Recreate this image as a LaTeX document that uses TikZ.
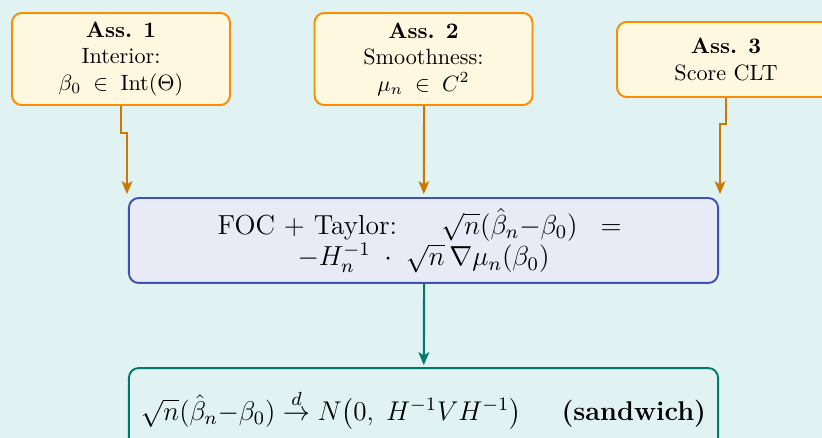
\RequirePackage{fix-cm}
\documentclass[tikz,border=0pt]{standalone}
\usepackage{amsmath}
\usetikzlibrary{arrows.meta,calc}
\definecolor{bgc}{HTML}{E0F2F1}
\definecolor{assfill}{HTML}{FFF8E1}
\definecolor{assdraw}{HTML}{FB8C00}
\definecolor{assarrow}{HTML}{CC7700}
\definecolor{midfill}{HTML}{E8EAF6}
\definecolor{middraw}{HTML}{3F51B5}
\definecolor{tealc}{HTML}{00796B}
\tikzset{
  assbox/.style={draw=assdraw, fill=assfill, line width=0.9pt, rounded corners=4.5pt,
    minimum width=101.4pt, minimum height=42.8pt, align=center, inner sep=2pt,
    font=\fontsize{10.3}{12.3}\selectfont},
  midbox/.style={draw=middraw, fill=midfill, line width=0.9pt, rounded corners=4.5pt,
    minimum width=274pt, minimum height=39.5pt, align=center, inner sep=2pt,
    font=\fontsize{12.8}{14.6}\selectfont},
  resbox/.style={draw=tealc, fill=bgc, line width=0.9pt, rounded corners=4.5pt,
    minimum width=274pt, minimum height=39pt, align=center, inner sep=2pt,
    font=\fontsize{12.6}{15}\selectfont},
  assarr/.style={draw=assarrow, line width=1pt, -{Stealth[length=6pt,width=5pt,inset=1.5pt]}},
  tealarr/.style={draw=tealc, line width=1pt, -{Stealth[length=6pt,width=5pt,inset=1.5pt]}}
}
\begin{document}
\begin{tikzpicture}[x=0.4651pt,y=-0.4651pt]
\useasboundingbox (0,0) rectangle (822,438);
\fill[bgc] (0,0) rectangle (822,438);
\clip (0,0) rectangle (822,438);
\node[assbox] (a1) at (121,59) {\textbf{Ass. 1}\\Interior:\\$\beta_0 \;\in\; \mathrm{Int}(\Theta)$};
\node[assbox] (a2) at (423.5,59) {\textbf{Ass. 2}\\Smoothness:\\$\mu_n \;\in\; C^2$};
\node[assbox, minimum height=34.9pt] (a3) at (726,59.5) {\textbf{Ass. 3}\\Score CLT};
\node[midbox] (mid) at (423.5,240.5) {FOC + Taylor:\quad\, $\sqrt{n}(\hat{\beta}_n{-}\beta_0) \;\;=\;$\\$-H_n^{-1}\;\cdot\;\sqrt{n}\,\nabla\mu_n(\beta_0)$};
\node[resbox] (res) at (423.5,410) {$\sqrt{n}(\hat{\beta}_n{-}\beta_0) \stackrel{d}{\to} N\bigl(0,\; H^{-1}VH^{-1}\bigr)$\quad\ \,\textbf{(sandwich)}};
\coordinate (t1) at ($(mid.north west)+(-1,-3)$);
\coordinate (t3) at ($(mid.north east)+(1,-3)$);
\draw[assarr] (a1.south) -- ++(0,27) -| (t1);
\draw[assarr] ([xshift=0.3]a2.south) -- ($(mid.north)+(0.3,-3)$);
\draw[assarr] (a3.south) -- ++(0,26) -| (t3);
\draw[tealarr] ([xshift=0.3]mid.south) -- ($(res.north)+(0.3,-2)$);
\end{tikzpicture}
\end{document}
